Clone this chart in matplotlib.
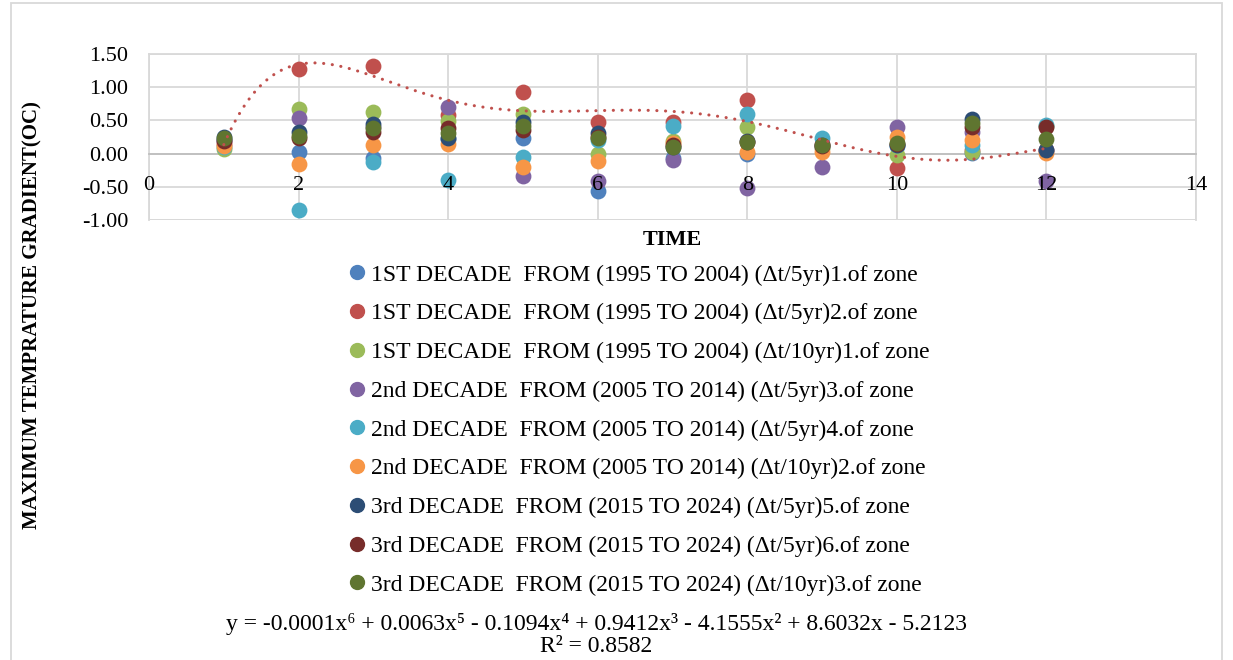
import numpy as np
import matplotlib.pyplot as plt
from matplotlib.lines import Line2D

plt.rcParams['font.family'] = ['Liberation Serif', 'DejaVu Serif']

time = [1, 2, 3, 4, 5, 6, 7, 8, 9, 10, 11, 12]

labels = [
    "1ST DECADE  FROM (1995 TO 2004) (\u0394t/5yr)1.of zone",
    "1ST DECADE  FROM (1995 TO 2004) (\u0394t/5yr)2.of zone",
    "1ST DECADE  FROM (1995 TO 2004) (\u0394t/10yr)1.of zone",
    "2nd DECADE  FROM (2005 TO 2014) (\u0394t/5yr)3.of zone",
    "2nd DECADE  FROM (2005 TO 2014) (\u0394t/5yr)4.of zone",
    "2nd DECADE  FROM (2005 TO 2014) (\u0394t/10yr)2.of zone",
    "3rd DECADE  FROM (2015 TO 2024) (\u0394t/5yr)5.of zone",
    "3rd DECADE  FROM (2015 TO 2024) (\u0394t/5yr)6.of zone",
    "3rd DECADE  FROM (2015 TO 2024) (\u0394t/10yr)3.of zone",
]
colors = ['#4F81BD', '#C0504D', '#9BBB59', '#8064A2', '#4BACC6',
          '#F79646', '#2C4D75', '#772C2A', '#5F7530']

zone1_5yr = [0.20, 0.03, -0.06, 0.22, 0.24, -0.56, -0.06, -0.01, 0.10, 0.12, 0.005, 0.05]
zone2_5yr = [0.15, 1.27, 1.32, 0.58, 0.93, 0.47, 0.47, 0.80, 0.15, -0.22, 0.05, 0.05]
zone1_10yr = [0.07, 0.67, 0.63, 0.49, 0.59, -0.01, 0.19, 0.405, 0.08, -0.02, 0.03, 0.42]
zone3_5yr = [0.20, 0.54, 0.40, 0.705, -0.335, -0.41, -0.095, -0.52, -0.195, 0.405, 0.32, -0.42]
zone4_5yr = [0.10, -0.855, -0.13, -0.395, -0.045, 0.205, 0.415, 0.59, 0.24, 0.13, 0.13, 0.43]
zone2_10yr = [0.12, -0.155, 0.13, 0.14, -0.195, -0.105, 0.155, 0.03, 0.02, 0.255, 0.205, 0.005]
zone5_5yr = [0.25, 0.32, 0.44, 0.23, 0.48, 0.305, 0.10, 0.19, 0.13, 0.13, 0.52, 0.055]
zone6_5yr = [0.19, 0.24, 0.32, 0.38, 0.355, 0.25, 0.13, 0.18, 0.11, 0.14, 0.405, 0.405]
zone3_10yr = [0.23, 0.27, 0.38, 0.31, 0.415, 0.24, 0.105, 0.17, 0.13, 0.155, 0.455, 0.22]

series = [zone1_5yr, zone2_5yr, zone1_10yr, zone3_5yr, zone4_5yr,
          zone2_10yr, zone5_5yr, zone6_5yr, zone3_10yr]

xticks = list(range(0, 15, 2))
yticks = np.arange(-1.0, 1.51, 0.5)

fig = plt.figure(figsize=(12.33, 6.6), dpi=100)
ax = fig.add_axes([149/1233, 1 - 220/660, (1196 - 149)/1233, (220 - 54)/660])

for vals, c in zip(series, colors):
    ax.scatter(time, vals, s=130, color=c, zorder=3, linewidths=0)

# poly trendline (order 6) on zone 2
coef = np.polyfit(time, zone2_5yr, 6)
xs = np.linspace(1, 12, 300)
ax.plot(xs, np.polyval(coef, xs), color='#C0504D', lw=2.2,
        linestyle=(0, (0.05, 2.8)), dash_capstyle='round', zorder=4)

ax.set_xlim(0, 14)
ax.set_ylim(-1.0, 1.5)
ax.set_xticks(xticks)
ax.set_yticks(yticks)
ax.set_yticklabels(['%.2f' % v for v in yticks])
ax.grid(True, axis='y', color='#D9D9D9', lw=1.3, zorder=0)
ax.set_axisbelow(True)
for xt in xticks:
    ax.axvline(xt, color='#D9D9D9', lw=1.3, zorder=0)
# Excel draws the category labels above the markers
ax.xaxis.set_zorder(5)
for s in ['top', 'right', 'left']:
    ax.spines[s].set_color('#D9D9D9')
    ax.spines[s].set_linewidth(1.3)
ax.spines['bottom'].set_position(('data', 0))
ax.spines['bottom'].set_color('#BFBFBF')
ax.spines['bottom'].set_linewidth(1.3)
ax.axhline(-1.0, color='#D9D9D9', lw=1.3, zorder=0)
ax.tick_params(axis='both', length=0, labelsize=16)
ax.tick_params(axis='x', pad=16)
ax.tick_params(axis='y', pad=15)

fig.text(672/1233, 1 - 240/660, 'TIME', ha='center', va='center',
         fontsize=16, fontweight='bold')
fig.text(32/1233, 1 - 315/660, 'MAXIMUM TEMPRATURE GRADIENT(OC)', ha='center',
         va='center', rotation=90, fontsize=15, fontweight='bold')

handles = [Line2D([], [], marker='o', ls='', color=c, markersize=10) for c in colors]
fig.legend(handles, labels, loc='upper left', bbox_to_anchor=(343/1233, 1 - 264/660),
           frameon=False, fontsize=17, handletextpad=0.0, labelspacing=0.73,
           handlelength=1.2, borderaxespad=0, borderpad=0)

fig.text(596/1233, 1 - 624/660,
         'y = -0.0001x\u2076 + 0.0063x\u2075 - 0.1094x\u2074 + 0.9412x\u00b3 - 4.1555x\u00b2 + 8.6032x - 5.2123',
         ha='center', va='center', fontsize=17)
fig.text(596/1233, 1 - 647/660, 'R\u00b2 = 0.8582', ha='center', va='center', fontsize=17)

# chart area border
fig.add_artist(plt.Rectangle((11/1233, -0.01), (1222 - 11)/1233, 1 - 3/660 + 0.01,
                             transform=fig.transFigure, fill=False,
                             edgecolor='#D9D9D9', lw=1.3))

plt.savefig('out.png', dpi=100)
